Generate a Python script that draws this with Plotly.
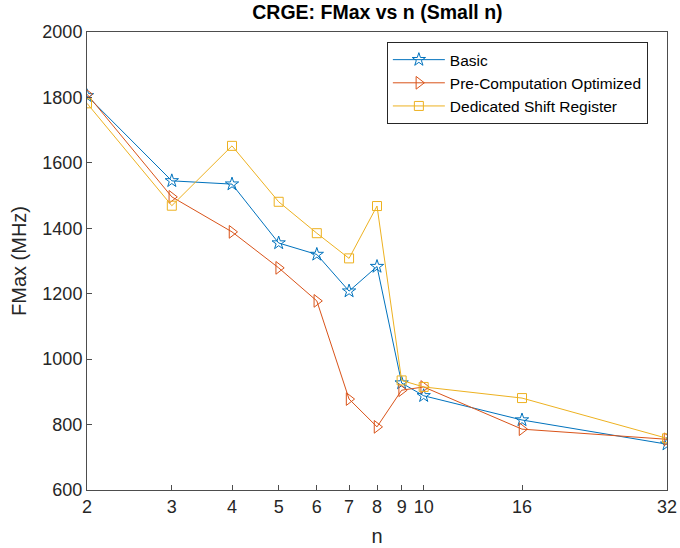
import plotly.graph_objects as go

n_vals = [2, 3, 4, 5, 6, 7, 8, 9, 10, 16, 32]
basic = [1805, 1545, 1535, 1355, 1320, 1208, 1283, 927, 888, 814, 740]
precomp = [1810, 1496, 1389, 1279, 1178, 878, 793, 905, 915, 786, 755]
dedicated = [1782, 1469, 1652, 1481, 1385, 1308, 1468, 935, 915, 881, 758]
x_ticks = [2, 3, 4, 5, 6, 7, 8, 9, 10, 16, 32]
y_ticks = [600, 800, 1000, 1200, 1400, 1600, 1800, 2000]

series = [
    ("Basic", basic, "#0072BD", "star-open", 10),
    ("Pre-Computation Optimized", precomp, "#D95319", "triangle-right-open", 11),
    ("Dedicated Shift Register", dedicated, "#EDB120", "square-open", 9),
]

FONT = "Liberation Sans, Arial, Helvetica"

fig = go.Figure()
for name, ys, col, sym, sz in series:
    fig.add_trace(go.Scatter(
        x=n_vals, y=ys, name=name, mode="lines+markers",
        line=dict(color=col, width=1),
        marker=dict(symbol=sym, size=sz, color=col, line=dict(width=1, color=col)),
    ))

axis_common = dict(
    showline=True, linecolor="#4d4d4d", linewidth=1, mirror=True,
    ticks="inside", ticklen=5, tickcolor="#4d4d4d", showgrid=False, zeroline=False,
    automargin=False,
    tickfont=dict(family=FONT, size=18, color="#262626"),
)

fig.update_layout(
    template="none",
    width=680, height=548,
    paper_bgcolor="white", plot_bgcolor="white",
    margin=dict(l=87, r=13, t=32, b=58, autoexpand=False),
    title=dict(text="<b>CRGE: FMax vs n (Small n)</b>", x=0.555, xanchor="center",
               y=0.99, yanchor="top",
               font=dict(family=FONT, size=19.5, color="black")),
    xaxis=dict(type="log", range=[0.30103, 1.50515], tickvals=x_ticks,
               ticktext=[str(v) for v in x_ticks],
               title=dict(text="n", font=dict(family=FONT, size=20, color="#262626"), standoff=13),
               **axis_common),
    yaxis=dict(range=[600, 2000], tickvals=y_ticks,
               title=dict(text="FMax (MHz)", font=dict(family=FONT, size=20, color="#262626"), standoff=10),
               **axis_common),
    legend=dict(x=0.517, y=0.978, xanchor="left", yanchor="top",
                bgcolor="white", bordercolor="#262626", borderwidth=1,
                font=dict(family=FONT, size=15.5, color="black"),
                tracegroupgap=0, itemwidth=52),
    showlegend=True,
)

fig.write_html("out.html")
